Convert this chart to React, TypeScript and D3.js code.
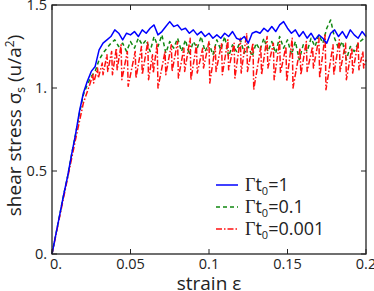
import React from 'react';
import * as d3 from 'd3';

// shared strain grid for the blue and green runs (step 0.0025)
const strainGrid = d3.range(0, 81).map((i) => +(i * 0.0025).toFixed(4));

const blueStress = [
  0, 0.12, 0.24, 0.36, 0.47, 0.6, 0.72, 0.86, 0.97, 1.04,
  1.1, 1.13, 1.23, 1.27, 1.29, 1.31, 1.35, 1.33, 1.29, 1.33,
  1.32, 1.34, 1.31, 1.35, 1.33, 1.36, 1.38, 1.32, 1.34, 1.37,
  1.4, 1.37, 1.38, 1.35, 1.36, 1.33, 1.35, 1.32, 1.34, 1.31,
  1.33, 1.3, 1.32, 1.3, 1.33, 1.31, 1.34, 1.3, 1.29, 1.31,
  1.27, 1.33, 1.34, 1.33, 1.36, 1.34, 1.37, 1.34, 1.38, 1.4,
  1.36, 1.33, 1.35, 1.31, 1.34, 1.3, 1.33, 1.29, 1.32, 1.3,
  1.27, 1.33, 1.35, 1.31, 1.34, 1.3, 1.35, 1.32, 1.3, 1.34,
  1.31,
];

const greenStress = [
  0, 0.12, 0.24, 0.36, 0.47, 0.6, 0.72, 0.85, 0.96, 1.02,
  1.07, 1.1, 1.17, 1.21, 1.24, 1.27, 1.29, 1.25, 1.27, 1.22,
  1.28, 1.24, 1.3, 1.26, 1.29, 1.22, 1.31, 1.25, 1.32, 1.21,
  1.28, 1.24, 1.3, 1.22, 1.29, 1.2, 1.28, 1.24, 1.31, 1.22,
  1.27, 1.2, 1.29, 1.23, 1.31, 1.19, 1.26, 1.22, 1.29, 1.21,
  1.25, 1.19, 1.27, 1.23, 1.3, 1.22, 1.28, 1.21, 1.31, 1.24,
  1.29, 1.2, 1.28, 1.17, 1.26, 1.22, 1.3, 1.25, 1.32, 1.27,
  1.36, 1.41, 1.3, 1.24, 1.28, 1.17, 1.25, 1.22, 1.27, 1.29,
  1.31,
];

// the slowest run is a sawtooth, so it has its own strain points
const redStrain = [
  0, 0.005, 0.01, 0.015, 0.02, 0.024, 0.026, 0.0265, 0.029, 0.0295,
  0.032, 0.0325, 0.035, 0.0355, 0.038, 0.0385, 0.041, 0.0415, 0.044, 0.0445,
  0.048, 0.0485, 0.053, 0.0535, 0.057, 0.0575, 0.061, 0.0615, 0.064, 0.0645,
  0.067, 0.0675, 0.072, 0.0725, 0.076, 0.0765, 0.08, 0.0805, 0.084, 0.0845,
  0.088, 0.0885, 0.092, 0.0925, 0.096, 0.0965, 0.1, 0.1005, 0.104, 0.1045,
  0.108, 0.1085, 0.112, 0.1125, 0.116, 0.1165, 0.12, 0.1205, 0.124, 0.1245,
  0.128, 0.1285, 0.133, 0.1335, 0.137, 0.1375, 0.141, 0.1415, 0.145, 0.1455,
  0.149, 0.1495, 0.153, 0.1535, 0.158, 0.1585, 0.162, 0.1625, 0.166, 0.1665,
  0.17, 0.1705, 0.174, 0.1745, 0.179, 0.1795, 0.183, 0.1835, 0.187, 0.1875,
  0.191, 0.1915, 0.195, 0.1955, 0.198, 0.1985, 0.2,
];
const redStress = [
  0, 0.23, 0.46, 0.69, 0.91, 1.02, 1.08, 1.03, 1.12, 1.06,
  1.15, 1.08, 1.2, 1.1, 1.22, 1.08, 1.24, 1.11, 1.26, 1.05,
  1.22, 1.01, 1.22, 1.06, 1.25, 1.08, 1.28, 1.05, 1.2, 1.09,
  1.27, 1.0, 1.22, 1.08, 1.26, 1.1, 1.28, 1.06, 1.24, 1.1,
  1.3, 1.05, 1.26, 1.09, 1.24, 1.12, 1.28, 1.03, 1.25, 1.1,
  1.27, 1.08, 1.29, 1.11, 1.27, 1.06, 1.3, 1.09, 1.33, 1.1,
  1.27, 0.99, 1.25, 1.08, 1.31, 1.12, 1.27, 1.05, 1.28, 1.09,
  1.25, 1.04, 1.3, 1.0, 1.24, 1.08, 1.28, 1.1, 1.25, 1.12,
  1.3, 1.06, 1.32, 0.99, 1.26, 1.08, 1.29, 1.1, 1.27, 1.05,
  1.24, 1.09, 1.28, 1.11, 1.22, 1.12, 1.17,
];

const xTicks = [0, 0.05, 0.1, 0.15, 0.2];
const xTickLabels = ['0.', '0.05', '0.1', '0.15', '0.2'];
const yTicks = [0, 0.5, 1, 1.5];
const yTickLabels = ['0.', '0.5', '1.', '1.5'];
const legendValues = ['1', '0.1', '0.001'];

const W = 374;
const H = 291;
const margin = { top: 5, right: 8, bottom: 37, left: 52 };
const font = 'Open Sans, sans-serif';
const ink = '#222';

const App = () => {
  const x = d3.scaleLinear().domain([0, 0.2]).range([margin.left, W - margin.right]);
  const y = d3.scaleLinear().domain([0, 1.5]).range([H - margin.bottom, margin.top]);
  const line = d3
    .line<[number, number]>()
    .x((d) => x(d[0]))
    .y((d) => y(d[1]));

  const series = [
    { pts: strainGrid.map((s, i) => [s, greenStress[i]] as [number, number]), color: '#118811', dash: '4,3' },
    { pts: redStrain.map((s, i) => [s, redStress[i]] as [number, number]), color: '#ff1010', dash: '6,2,1.5,2' },
    { pts: strainGrid.map((s, i) => [s, blueStress[i]] as [number, number]), color: '#0000ff', dash: 'none' },
  ];
  const legend = [
    { color: '#0000ff', dash: 'none' },
    { color: '#118811', dash: '4,3' },
    { color: '#ff1010', dash: '6,2,1.5,2' },
  ];

  const x0 = margin.left;
  const x1 = W - margin.right;
  const y0 = H - margin.bottom;
  const y1 = margin.top;

  return (
    <svg width={W} height={H} style={{ position: 'absolute', left: 0, top: 0, background: '#fff' }}>
      {series.map((s, i) => (
        <path
          key={i}
          d={line(s.pts) || ''}
          fill="none"
          stroke={s.color}
          strokeWidth={1.5}
          strokeDasharray={s.dash}
          strokeLinejoin="round"
        />
      ))}
      {/* frame */}
      <rect x={x0} y={y1} width={x1 - x0} height={y0 - y1} fill="none" stroke={ink} strokeWidth={1.3} />
      {xTicks.map((t, i) => (
        <g key={'x' + i}>
          <line x1={x(t)} x2={x(t)} y1={y0} y2={y0 - 5} stroke={ink} />
          <line x1={x(t)} x2={x(t)} y1={y1} y2={y1 + 5} stroke={ink} />
          <text x={x(t) + (i === 0 ? 4 : 0)} y={269} textAnchor="middle" fontFamily={font} fontSize={14.5} fill={ink}>
            {xTickLabels[i]}
          </text>
        </g>
      ))}
      {yTicks.map((t, i) => (
        <g key={'y' + i}>
          <line x1={x0} x2={x0 + 5} y1={y(t)} y2={y(t)} stroke={ink} />
          <line x1={x1} x2={x1 - 5} y1={y(t)} y2={y(t)} stroke={ink} />
          <text x={47} y={y(t) + 5} textAnchor="end" fontFamily={font} fontSize={14.5} fill={ink}>
            {yTickLabels[i]}
          </text>
        </g>
      ))}
      <text x={(x0 + x1) / 2} y={290} textAnchor="middle" fontFamily={font} fontSize={19} fill={ink}>
        strain ε
      </text>
      <text
        transform={`translate(21, ${(y0 + y1) / 2 - 4}) rotate(-90)`}
        textAnchor="middle"
        fontFamily={font}
        fontSize={19}
        fill={ink}
      >
        shear stress σ<tspan fontSize={12} dy={4}>s</tspan>
        <tspan dy={-4}> (u/a</tspan>
        <tspan fontSize={12} dy={-7}>2</tspan>
        <tspan dy={7}>)</tspan>
      </text>
      {legend.map((l, i) => (
        <g key={'l' + i} transform={`translate(0, ${185 + i * 22})`}>
          <line x1={216} x2={238} y1={0} y2={0} stroke={l.color} strokeWidth={1.5} strokeDasharray={l.dash} />
          <text x={245} y={6} fontFamily={font} fontSize={18} fill={ink}>
            <tspan fontFamily="Liberation Serif, serif">Γ</tspan>t
            <tspan fontSize={11} dy={4}>0</tspan>
            <tspan dy={-4}>={legendValues[i]}</tspan>
          </text>
        </g>
      ))}
    </svg>
  );
};

export default App;
